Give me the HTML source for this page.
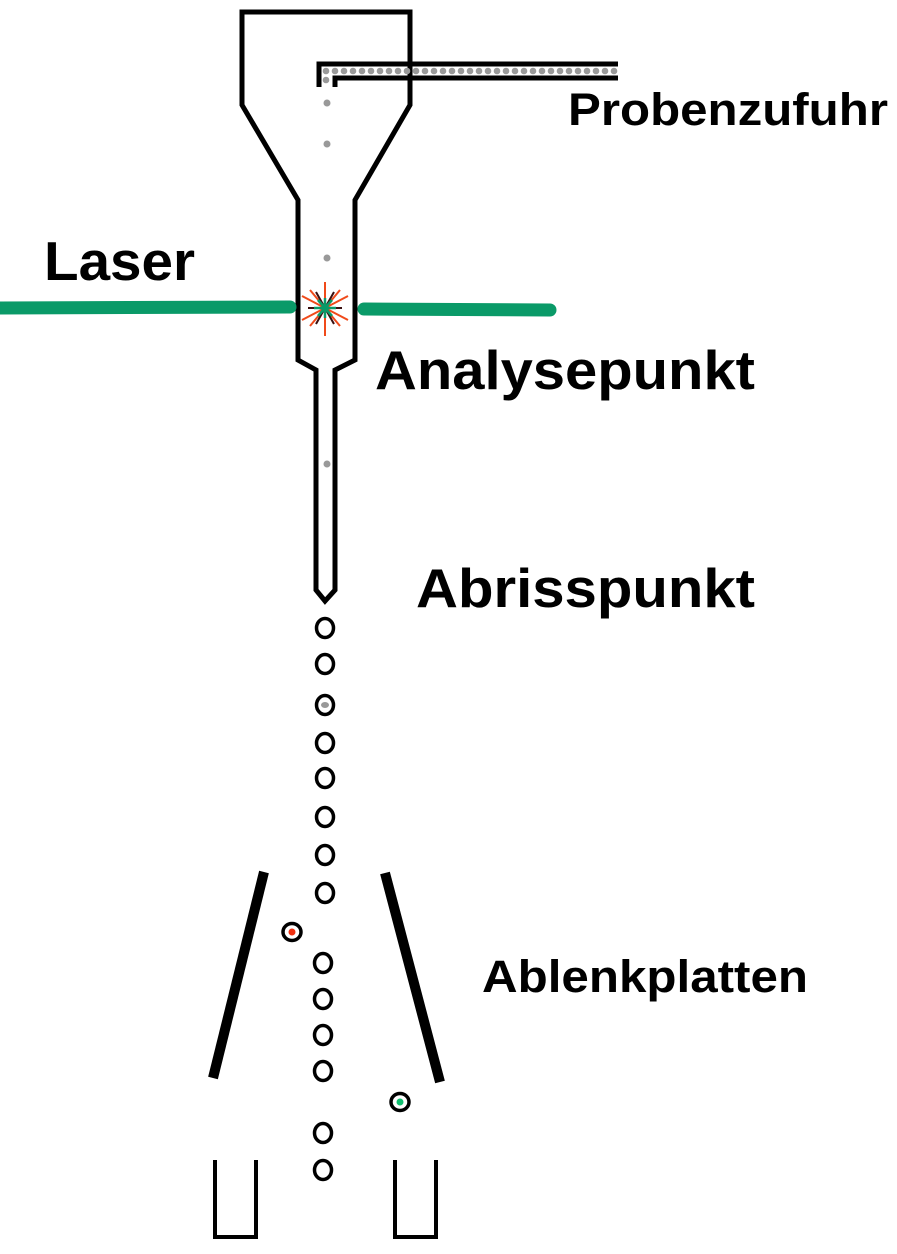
<!DOCTYPE html>
<html><head><meta charset="utf-8"><style>html,body{margin:0;padding:0;background:#fff}svg{display:block}</style></head>
<body>
<svg width="897" height="1254" viewBox="0 0 897 1254" xmlns="http://www.w3.org/2000/svg">
<g fill="none" stroke="#000" stroke-width="5" stroke-linejoin="miter">
<path d="M298,200 L242,105 L242,12 L410,12 L410,105 L355,200 L355,360 L335,370 L335,590 L325,601 L316,590 L316,370 L298,360 Z"/>
</g>
<g stroke="#000" stroke-width="5" fill="none">
<path d="M319,87 L319,64 L618,64"/>
<path d="M335,87 L335,78 L618,78"/>
</g>
<g fill="#999">
<circle cx="326" cy="71" r="3.3"/><circle cx="335" cy="71" r="3.3"/><circle cx="344" cy="71" r="3.3"/><circle cx="353" cy="71" r="3.3"/><circle cx="362" cy="71" r="3.3"/><circle cx="371" cy="71" r="3.3"/><circle cx="380" cy="71" r="3.3"/><circle cx="389" cy="71" r="3.3"/><circle cx="398" cy="71" r="3.3"/><circle cx="407" cy="71" r="3.3"/><circle cx="416" cy="71" r="3.3"/><circle cx="425" cy="71" r="3.3"/><circle cx="434" cy="71" r="3.3"/><circle cx="443" cy="71" r="3.3"/><circle cx="452" cy="71" r="3.3"/><circle cx="461" cy="71" r="3.3"/><circle cx="470" cy="71" r="3.3"/><circle cx="479" cy="71" r="3.3"/><circle cx="488" cy="71" r="3.3"/><circle cx="497" cy="71" r="3.3"/><circle cx="506" cy="71" r="3.3"/><circle cx="515" cy="71" r="3.3"/><circle cx="524" cy="71" r="3.3"/><circle cx="533" cy="71" r="3.3"/><circle cx="542" cy="71" r="3.3"/><circle cx="551" cy="71" r="3.3"/><circle cx="560" cy="71" r="3.3"/><circle cx="569" cy="71" r="3.3"/><circle cx="578" cy="71" r="3.3"/><circle cx="587" cy="71" r="3.3"/><circle cx="596" cy="71" r="3.3"/><circle cx="605" cy="71" r="3.3"/><circle cx="614" cy="71" r="3.3"/>
<circle cx="326" cy="80" r="3.3"/>
<circle cx="327" cy="103" r="3.5"/><circle cx="327" cy="144" r="3.5"/><circle cx="327" cy="258" r="3.5"/><circle cx="327" cy="464" r="3.5"/>
</g>
<g stroke="#0a9a68" stroke-width="13" stroke-linecap="round">
<line x1="-10" y1="308" x2="290" y2="307"/>
<line x1="364" y1="309" x2="550" y2="310"/>
</g>
<g stroke="#f04a1a" stroke-width="2">
<line x1="325" y1="282" x2="325" y2="336"/><line x1="302" y1="296" x2="348" y2="320"/><line x1="302" y1="320" x2="348" y2="296"/><line x1="310" y1="290" x2="340" y2="326"/><line x1="340" y1="290" x2="310" y2="326"/>
</g>
<g stroke="#3a1010" stroke-width="2"><line x1="316" y1="292" x2="334" y2="324"/><line x1="334" y1="292" x2="316" y2="324"/><line x1="308" y1="308" x2="342" y2="308"/></g>
<g stroke="#0a9a68" stroke-width="2.5"><line x1="318" y1="300" x2="332" y2="316"/><line x1="332" y1="300" x2="318" y2="316"/><line x1="314" y1="308" x2="336" y2="308"/><line x1="325" y1="298" x2="325" y2="318"/></g>
<circle cx="325" cy="308" r="4" fill="#0a9a68"/>
<g fill="none" stroke="#000" stroke-width="3.5">
<ellipse cx="325" cy="628" rx="8.5" ry="9.5"/><ellipse cx="325" cy="664" rx="8.5" ry="9.5"/><ellipse cx="325" cy="705" rx="8.5" ry="9.5"/><ellipse cx="325" cy="743" rx="8.5" ry="9.5"/><ellipse cx="325" cy="778" rx="8.5" ry="9.5"/><ellipse cx="325" cy="817" rx="8.5" ry="9.5"/><ellipse cx="325" cy="855" rx="8.5" ry="9.5"/><ellipse cx="325" cy="893" rx="8.5" ry="9.5"/>
<ellipse cx="323" cy="963" rx="8.5" ry="9.5"/><ellipse cx="323" cy="999" rx="8.5" ry="9.5"/><ellipse cx="323" cy="1035" rx="8.5" ry="9.5"/><ellipse cx="323" cy="1071" rx="8.5" ry="9.5"/>
<ellipse cx="323" cy="1133" rx="8.5" ry="9.5"/><ellipse cx="323" cy="1170" rx="8.5" ry="9.5"/>
<ellipse cx="292" cy="932" rx="9" ry="8.5"/><ellipse cx="400" cy="1102" rx="9" ry="8.5"/>
</g>
<ellipse cx="325" cy="705" rx="4" ry="3" fill="#999"/>
<circle cx="292" cy="932" r="3.5" fill="#f03010"/>
<circle cx="400" cy="1102" r="3.5" fill="#10c070"/>
<g stroke="#000" stroke-width="10">
<line x1="264" y1="872" x2="213" y2="1078"/>
<line x1="385" y1="873" x2="440" y2="1082"/>
</g>
<g fill="none" stroke="#000" stroke-width="4">
<path d="M215,1160 L215,1237 L256,1237 L256,1160"/>
<path d="M395,1160 L395,1237 L436,1237 L436,1160"/>
</g>
<g font-family="Liberation Sans, Arial, sans-serif" font-weight="bold" fill="#000">
<text x="568" y="125" font-size="45" textLength="320" lengthAdjust="spacingAndGlyphs">Probenzufuhr</text>
<text x="44" y="280" font-size="55" textLength="151" lengthAdjust="spacingAndGlyphs">Laser</text>
<text x="375" y="389" font-size="55" textLength="380" lengthAdjust="spacingAndGlyphs">Analysepunkt</text>
<text x="416" y="607" font-size="55" textLength="339" lengthAdjust="spacingAndGlyphs">Abrisspunkt</text>
<text x="482" y="992" font-size="45" textLength="326" lengthAdjust="spacingAndGlyphs">Ablenkplatten</text>
</g>
</svg>
</body></html>
